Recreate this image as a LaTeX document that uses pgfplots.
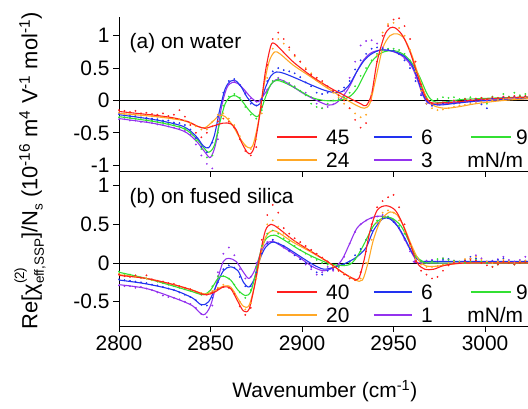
\documentclass[border=0pt]{standalone}
\usepackage{fontspec}
\setmainfont{Liberation Sans}
\usepackage{pgfplots}
\usepackage{pgfplotstable}
\pgfplotsset{compat=1.18}
\definecolor{cr}{HTML}{FF1E1E}
\definecolor{co}{HTML}{FFA826}
\definecolor{cb}{HTML}{2233F0}
\definecolor{cg}{HTML}{33E033}
\definecolor{cp}{HTML}{9433EE}
\newcommand{\bigf}{\fontsize{21}{25}\selectfont}
\newcommand{\lblf}{\fontsize{22}{26}\selectfont}
\newcommand{\smf}{\fontsize{13.5}{14}\selectfont}
\tikzset{lgt/.style={anchor=base west, yshift=-7.5bp, font=\bigf, inner sep=0pt}}

% dots, panel (a): x red orange blue green purple
\pgfplotstableread{
x r o b g p
2800 -0.15 -0.19 -0.21 -0.26 -0.29
2803 -0.16 -0.21 -0.23 -0.26 -0.29
2806 -0.18 -0.21 -0.24 -0.27 -0.31
2809 -0.16 -0.22 -0.24 -0.28 -0.31
2812 -0.20 -0.23 -0.26 -0.29 -0.33
2815 -0.19 -0.23 -0.27 -0.30 -0.33
2818 -0.21 -0.24 -0.28 -0.31 -0.35
2821 -0.22 -0.25 -0.29 -0.33 -0.37
2824 -0.20 -0.26 -0.31 -0.34 -0.38
2827 -0.24 -0.27 -0.31 -0.36 -0.40
2830 -0.22 -0.28 -0.34 -0.38 -0.42
2833 -0.15 -0.29 -0.35 -0.40 -0.44
2836 -0.25 -0.31 -0.38 -0.43 -0.47
2839 -0.38 -0.35 -0.45 -0.49 -0.53
2842 -0.50 -0.40 -0.58 -0.62 -0.68
2845 -0.57 -0.45 -0.72 -0.75 -0.85
2848 -0.50 -0.45 -0.80 -0.88 -0.98
2851 -0.40 -0.33 -0.65 -0.85 -1.05
2854 -0.32 -0.22 -0.25 -0.50 -0.60
2857 -0.28 -0.20 0.12 -0.08 0.00
2860 -0.33 -0.28 0.30 0.06 0.25
2863 -0.42 -0.38 0.33 0.10 0.30
2866 -0.60 -0.55 0.24 0.04 0.24
2869 -0.78 -0.70 0.10 -0.10 0.12
2872 -0.85 -0.75 -0.05 -0.22 0.03
2875 -0.72 -0.60 -0.08 -0.28 -0.02
2878 -0.10 -0.20 0.02 -0.15 0.03
2881 0.55 0.35 0.30 0.12 0.17
2884 0.95 0.80 0.45 0.30 0.30
2887 1.05 0.95 0.50 0.33 0.35
2890 0.95 0.88 0.47 0.30 0.30
2893 0.82 0.78 0.45 0.27 0.25
2896 0.70 0.68 0.42 0.22 0.20
2899 0.60 0.60 0.36 0.15 0.15
2902 0.48 0.50 0.28 0.08 0.12
2905 0.40 0.42 0.22 -0.05 0.05
2908 0.35 0.35 0.12 -0.10 -0.05
2911 0.30 0.28 0.10 -0.12 -0.12
2914 0.22 0.20 0.12 -0.05 -0.10
2917 0.15 0.12 0.14 0.00 -0.06
2920 0.08 0.05 0.15 0.02 0.02
2923 0.00 -0.05 0.20 0.05 0.15
2926 -0.12 -0.12 0.30 0.12 0.35
2929 -0.30 -0.20 0.48 0.22 0.60
2932 -0.42 -0.26 0.62 0.38 0.85
2935 -0.35 -0.22 0.72 0.50 0.92
2938 0.00 0.10 0.80 0.62 0.93
2941 0.60 0.70 0.82 0.72 0.88
2944 1.00 1.05 0.80 0.78 0.82
2947 1.15 1.18 0.78 0.80 0.78
2950 1.25 1.20 0.77 0.80 0.76
2953 1.27 1.12 0.72 0.78 0.72
2956 1.15 1.00 0.62 0.72 0.65
2959 0.95 0.78 0.50 0.62 0.55
2962 0.60 0.45 0.30 0.45 0.35
2965 0.25 0.15 0.08 0.20 0.10
2968 0.02 -0.05 -0.05 0.05 -0.05
2971 -0.05 -0.12 -0.08 0.00 -0.08
2974 -0.05 -0.15 -0.06 0.02 -0.06
2977 -0.03 -0.14 -0.04 0.05 -0.05
2980 -0.04 -0.12 -0.02 0.04 -0.03
2983 0.00 -0.10 -0.05 0.05 -0.02
2986 -0.02 -0.08 -0.03 0.02 -0.04
2989 0.02 -0.07 0.00 0.03 0.00
2992 0.01 -0.05 -0.02 0.05 0.01
2995 0.03 -0.04 0.02 0.02 -0.02
2998 0.04 -0.02 -0.06 0.04 0.02
3001 0.02 -0.02 -0.12 -0.05 0.00
3004 0.05 0.00 0.03 0.06 0.03
3007 0.04 0.01 0.02 0.03 0.02
3010 0.06 0.02 0.05 0.10 0.05
3013 0.05 0.03 0.03 0.06 0.03
3016 0.07 0.03 0.06 0.12 0.05
3019 0.06 0.04 0.04 0.08 0.06
3022 0.07 0.05 0.06 0.10 0.05
3025 0.06 0.05 0.05 0.07 0.06
3028 0.07 0.06 0.06 0.10 0.07
}\dotsA

% dots, panel (b): x red orange green blue purple
\pgfplotstableread{
x r o g b p
2800 -0.15 -0.14 -0.11 -0.21 -0.29
2803 -0.17 -0.16 -0.14 -0.22 -0.30
2806 -0.18 -0.17 -0.15 -0.23 -0.30
2809 -0.16 -0.18 -0.17 -0.24 -0.32
2812 -0.19 -0.19 -0.19 -0.25 -0.31
2815 -0.16 -0.20 -0.20 -0.26 -0.33
2818 -0.21 -0.22 -0.22 -0.28 -0.35
2821 -0.23 -0.23 -0.24 -0.29 -0.38
2824 -0.24 -0.24 -0.26 -0.31 -0.42
2827 -0.26 -0.26 -0.28 -0.33 -0.44
2830 -0.27 -0.28 -0.30 -0.35 -0.45
2833 -0.30 -0.30 -0.32 -0.38 -0.47
2836 -0.32 -0.32 -0.34 -0.41 -0.50
2839 -0.34 -0.34 -0.36 -0.44 -0.53
2842 -0.37 -0.37 -0.38 -0.48 -0.58
2845 -0.40 -0.39 -0.41 -0.54 -0.66
2848 -0.41 -0.40 -0.40 -0.55 -0.70
2851 -0.38 -0.36 -0.30 -0.45 -0.55
2854 -0.34 -0.32 -0.17 -0.25 -0.12
2857 -0.31 -0.28 -0.17 -0.08 0.12
2860 -0.32 -0.30 -0.20 -0.03 0.20
2863 -0.40 -0.38 -0.28 -0.06 0.10
2866 -0.56 -0.50 -0.38 -0.18 -0.08
2869 -0.67 -0.60 -0.45 -0.30 -0.20
2872 -0.58 -0.52 -0.35 -0.30 -0.18
2875 -0.15 -0.20 -0.05 -0.12 0.00
2878 0.30 0.20 0.22 0.12 0.18
2881 0.62 0.50 0.38 0.25 0.27
2884 0.75 0.55 0.42 0.30 0.30
2887 0.65 0.47 0.38 0.25 0.25
2890 0.45 0.38 0.32 0.22 0.20
2893 0.38 0.33 0.28 0.16 0.15
2896 0.32 0.28 0.22 0.10 0.10
2899 0.27 0.23 0.17 0.05 0.05
2902 0.22 0.19 0.12 0.00 -0.02
2905 0.17 0.15 0.08 -0.05 -0.08
2908 0.12 0.10 0.04 -0.12 -0.15
2911 0.07 0.06 0.00 -0.15 -0.12
2914 0.02 0.02 -0.02 -0.10 -0.05
2917 -0.06 -0.05 -0.05 -0.08 -0.10
2920 -0.10 -0.10 -0.05 -0.05 -0.02
2923 -0.15 -0.14 -0.03 -0.02 0.08
2926 -0.20 -0.18 0.00 0.02 0.25
2929 -0.22 -0.22 0.05 0.10 0.40
2932 -0.12 -0.20 0.15 0.18 0.50
2935 0.15 0.00 0.30 0.30 0.55
2938 0.50 0.30 0.45 0.42 0.58
2941 0.72 0.52 0.55 0.52 0.60
2944 0.80 0.65 0.60 0.58 0.62
2947 0.85 0.68 0.60 0.58 0.60
2950 0.88 0.65 0.56 0.53 0.55
2953 0.72 0.55 0.48 0.45 0.45
2956 0.50 0.40 0.38 0.32 0.30
2959 0.25 0.22 0.22 0.18 0.15
2962 0.02 0.05 0.08 0.06 0.05
2965 -0.10 -0.02 0.02 0.02 0.00
2968 -0.15 -0.05 0.00 0.00 0.03
2971 -0.20 -0.05 0.02 0.03 0.04
2974 -0.18 -0.04 0.05 0.02 0.02
2977 -0.10 -0.02 0.06 0.04 0.06
2980 -0.03 0.00 0.04 0.05 0.05
2983 0.00 0.02 0.03 0.02 0.03
2986 0.00 0.01 0.02 0.00 0.01
2989 0.02 0.05 0.00 0.03 0.04
2992 0.04 0.06 0.02 0.08 0.06
2995 0.03 0.08 0.04 0.06 0.10
2998 0.00 0.04 0.02 0.02 0.06
3001 -0.03 0.02 0.00 0.00 0.02
3004 -0.05 0.00 -0.05 0.02 0.03
3007 -0.02 0.02 -0.02 0.04 0.05
3010 0.02 0.04 0.02 0.06 0.08
3013 0.00 0.02 0.00 0.02 0.04
3016 -0.02 0.00 -0.02 0.00 0.02
3019 0.00 0.02 0.00 0.02 0.04
3022 0.01 0.03 0.01 0.03 0.08
3025 0.00 0.02 0.02 0.02 0.05
3028 0.01 0.02 0.01 0.03 0.04
}\dotsB

\pgfplotsset{
  panel/.style={
    scale only axis, width=421bp, height=154bp,
    xmin=2800, xmax=3030,
    axis x line*=bottom, axis y line*=left,
    axis line style={line width=0.8bp, black},
    tick align=outside, major tick length=6bp,
    tick style={line width=0.8bp, black},
    xtick={2800,2850,2900,2950,3000},
    tick label style={font=\bigf},
    label style={font=\bigf},
    /pgf/number format/assume math mode=true,
    clip=false,
  },
  dots/.style={only marks, mark=*, mark size=0.7bp, draw=none},
  fit/.style={smooth, tension=0.5, line width=1.1bp, no marks},
  lg/.style={line width=2bp, forget plot, no marks},
}

\begin{document}
\begin{tikzpicture}
% ---------------- panel (a) ----------------
\begin{axis}[panel, at={(119bp,238bp)}, anchor=south west,
  ymin=-1.09, ymax=1.29, ytick={-1,-0.5,0,0.5,1}, xticklabels={}]
\addplot[black, line width=0.8bp, forget plot] coordinates {(2800,0) (3030,0)};
\addplot[dots, cp, forget plot] table[x=x, y=p] {\dotsA};
\addplot[dots, cg, forget plot] table[x=x, y=g] {\dotsA};
\addplot[dots, cb, forget plot] table[x=x, y=b] {\dotsA};
\addplot[dots, co, forget plot] table[x=x, y=o] {\dotsA};
\addplot[dots, cr, forget plot] table[x=x, y=r] {\dotsA};
% fits
\addplot[fit, cp, forget plot] coordinates {(2800,-0.28) (2820,-0.36) (2835,-0.47) (2842,-0.62) (2847,-0.8) (2850,-0.88) (2853,-0.65) (2856,-0.1) (2859,0.2) (2862,0.28) (2865,0.26) (2868,0.18) (2872,0.05) (2876,-0.02) (2880,0.12) (2884,0.28) (2887,0.33) (2892,0.27) (2900,0.12) (2908,0.0) (2914,-0.07) (2918,-0.05) (2922,0.05) (2926,0.22) (2930,0.45) (2934,0.64) (2938,0.74) (2943,0.78) (2948,0.77) (2952,0.73) (2956,0.66) (2960,0.52) (2963,0.32) (2966,0.08) (2969,-0.04) (2975,-0.06) (2990,-0.02) (3030,0.04)};
\addplot[fit, cg, forget plot] coordinates {(2800,-0.25) (2820,-0.33) (2835,-0.43) (2842,-0.58) (2846,-0.72) (2849,-0.8) (2852,-0.7) (2855,-0.35) (2858,-0.05) (2861,0.06) (2864,0.07) (2867,0.0) (2871,-0.15) (2875,-0.25) (2877,-0.2) (2880,0.05) (2883,0.25) (2886,0.31) (2890,0.28) (2897,0.18) (2905,0.05) (2912,0.0) (2920,0.0) (2926,0.06) (2930,0.18) (2934,0.4) (2938,0.6) (2943,0.73) (2948,0.77) (2952,0.76) (2956,0.7) (2960,0.58) (2964,0.38) (2968,0.12) (2971,0.0) (2976,-0.03) (2990,0.02) (3030,0.06)};
\addplot[fit, cb, forget plot] coordinates {(2800,-0.22) (2820,-0.3) (2835,-0.4) (2842,-0.55) (2846,-0.7) (2849,-0.73) (2852,-0.55) (2855,-0.15) (2858,0.18) (2861,0.3) (2864,0.3) (2867,0.2) (2870,0.05) (2874,-0.07) (2877,-0.05) (2880,0.2) (2883,0.38) (2886,0.44) (2890,0.42) (2897,0.34) (2905,0.24) (2912,0.16) (2918,0.12) (2922,0.14) (2926,0.25) (2930,0.45) (2934,0.62) (2938,0.72) (2943,0.78) (2948,0.77) (2952,0.74) (2956,0.68) (2960,0.55) (2963,0.35) (2966,0.1) (2969,-0.03) (2975,-0.07) (2985,-0.04) (3000,0.0) (3030,0.04)};
\addplot[fit, co, forget plot] coordinates {(2800,-0.2) (2820,-0.25) (2835,-0.31) (2843,-0.4) (2847,-0.42) (2851,-0.33) (2855,-0.23) (2858,-0.25) (2862,-0.38) (2866,-0.58) (2870,-0.72) (2873,-0.7) (2876,-0.35) (2879,0.2) (2882,0.6) (2885,0.75) (2888,0.72) (2895,0.55) (2905,0.36) (2915,0.17) (2925,0.0) (2930,-0.08) (2934,-0.12) (2937,-0.05) (2940,0.3) (2944,0.8) (2948,1.0) (2952,1.03) (2956,0.95) (2960,0.7) (2964,0.35) (2968,0.05) (2972,-0.08) (2978,-0.12) (2985,-0.1) (2995,-0.05) (3010,0.0) (3030,0.04)};
\addplot[fit, cr, forget plot] coordinates {(2800,-0.17) (2810,-0.2) (2820,-0.23) (2830,-0.27) (2838,-0.33) (2843,-0.4) (2847,-0.43) (2852,-0.39) (2857,-0.35) (2861,-0.36) (2864,-0.45) (2867,-0.65) (2870,-0.8) (2872,-0.82) (2874,-0.7) (2877,-0.2) (2880,0.45) (2883,0.85) (2885,0.88) (2888,0.8) (2895,0.6) (2905,0.38) (2915,0.2) (2925,0.05) (2932,-0.05) (2935,-0.08) (2938,0.1) (2941,0.6) (2945,1.0) (2948,1.12) (2951,1.12) (2955,1.0) (2959,0.75) (2963,0.4) (2967,0.08) (2970,-0.03) (2975,-0.04) (2985,-0.02) (3000,0.02) (3030,0.06)};
% legend (a)
\addplot[lg, cr] coordinates {(2886.3,-0.5645) (2908.2,-0.5645)};
\addplot[lg, cb] coordinates {(2939.3,-0.5645) (2960.1,-0.5645)};
\addplot[lg, cg] coordinates {(2992.3,-0.5645) (3014.2,-0.5645)};
\addplot[lg, co] coordinates {(2886.3,-0.920) (2908.2,-0.920)};
\addplot[lg, cp] coordinates {(2939.3,-0.920) (2960.1,-0.920)};
\node[lgt] at (axis cs:2913.1,-0.5645) {45};
\node[lgt] at (axis cs:2965.0,-0.5645) {6};
\node[lgt] at (axis cs:3016.9,-0.5645) {9};
\node[lgt] at (axis cs:2913.1,-0.920) {24};
\node[lgt] at (axis cs:2965.0,-0.920) {3};
\node[lgt] at (axis cs:2990.2,-0.920) {mN/m};
\node[anchor=west, font=\bigf] at (rel axis cs:0.017,0.83) {(a) on water};
\end{axis}
% ---------------- panel (b) ----------------
\begin{axis}[panel, at={(119bp,83bp)}, anchor=south west,
  ymin=-0.814, ymax=1.176, ytick={-0.5,0,0.5,1},
  xticklabels={2800,2850,2900,2950,3000},
  xlabel={Wavenumber (cm\textsuperscript{-1})},
  x label style={at={(axis description cs:0.489,0)}, anchor=center, yshift=-65bp}]
\addplot[black, line width=0.8bp, forget plot] coordinates {(2800,0) (3030,0)};
\addplot[dots, cp, forget plot] table[x=x, y=p] {\dotsB};
\addplot[dots, cb, forget plot] table[x=x, y=b] {\dotsB};
\addplot[dots, cg, forget plot] table[x=x, y=g] {\dotsB};
\addplot[dots, co, forget plot] table[x=x, y=o] {\dotsB};
\addplot[dots, cr, forget plot] table[x=x, y=r] {\dotsB};
\addplot[fit, cp, forget plot] coordinates {(2800,-0.28) (2815,-0.33) (2830,-0.45) (2840,-0.55) (2846,-0.67) (2850,-0.55) (2854,-0.2) (2857,0.02) (2860,0.06) (2864,0.02) (2868,-0.12) (2871,-0.2) (2874,-0.1) (2877,0.1) (2880,0.24) (2884,0.28) (2890,0.2) (2898,0.08) (2906,-0.05) (2912,-0.1) (2918,-0.05) (2922,0.05) (2926,0.25) (2930,0.45) (2935,0.55) (2940,0.6) (2945,0.6) (2950,0.55) (2954,0.4) (2958,0.22) (2962,0.05) (2966,0.0) (3030,0.0)};
\addplot[fit, cb, forget plot] coordinates {(2800,-0.22) (2815,-0.27) (2830,-0.35) (2840,-0.45) (2845,-0.54) (2849,-0.5) (2853,-0.3) (2857,-0.1) (2861,-0.05) (2865,-0.1) (2868,-0.25) (2871,-0.31) (2874,-0.2) (2877,0.05) (2880,0.2) (2884,0.27) (2890,0.22) (2898,0.1) (2906,-0.02) (2912,-0.08) (2918,-0.05) (2924,0.0) (2930,0.08) (2935,0.2) (2939,0.42) (2944,0.57) (2948,0.57) (2953,0.45) (2957,0.28) (2961,0.1) (2965,0.02) (2970,0.02) (3030,0.02)};
\addplot[fit, cg, forget plot] coordinates {(2800,-0.12) (2815,-0.2) (2830,-0.3) (2840,-0.37) (2846,-0.41) (2850,-0.35) (2854,-0.2) (2857,-0.17) (2861,-0.22) (2865,-0.35) (2869,-0.42) (2872,-0.37) (2875,-0.1) (2878,0.2) (2881,0.33) (2885,0.36) (2890,0.3) (2898,0.18) (2906,0.08) (2914,0.0) (2920,-0.03) (2926,-0.02) (2930,0.08) (2934,0.25) (2939,0.48) (2944,0.58) (2949,0.58) (2954,0.48) (2958,0.3) (2962,0.1) (2966,0.02) (2972,0.0) (3030,0.0)};
\addplot[fit, co, forget plot] coordinates {(2800,-0.15) (2815,-0.2) (2830,-0.28) (2840,-0.35) (2847,-0.4) (2852,-0.36) (2857,-0.3) (2861,-0.31) (2865,-0.46) (2868,-0.56) (2871,-0.55) (2874,-0.3) (2877,0.05) (2880,0.33) (2884,0.42) (2888,0.38) (2895,0.27) (2905,0.14) (2915,0.0) (2922,-0.12) (2929,-0.22) (2933,-0.22) (2936,0.0) (2939,0.3) (2943,0.55) (2948,0.66) (2952,0.62) (2956,0.45) (2960,0.22) (2964,0.03) (2968,-0.04) (2974,-0.04) (2990,0.0) (3030,0.0)};
\addplot[fit, cr, forget plot] coordinates {(2800,-0.16) (2815,-0.2) (2830,-0.28) (2840,-0.35) (2847,-0.41) (2852,-0.38) (2857,-0.31) (2861,-0.33) (2865,-0.5) (2868,-0.62) (2871,-0.6) (2874,-0.3) (2877,0.1) (2880,0.42) (2883,0.5) (2887,0.45) (2895,0.3) (2905,0.15) (2915,0.0) (2922,-0.12) (2928,-0.2) (2931,-0.2) (2934,0.05) (2937,0.4) (2941,0.68) (2946,0.74) (2951,0.68) (2955,0.5) (2959,0.25) (2963,0.0) (2967,-0.08) (2972,-0.08) (2978,-0.03) (2990,0.0) (3030,0.0)};
% legend (b)
\addplot[lg, cr] coordinates {(2886.3,-0.3746) (2908.2,-0.3746)};
\addplot[lg, cb] coordinates {(2939.3,-0.3746) (2960.1,-0.3746)};
\addplot[lg, cg] coordinates {(2992.3,-0.3746) (3014.2,-0.3746)};
\addplot[lg, co] coordinates {(2886.3,-0.6719) (2908.2,-0.6719)};
\addplot[lg, cp] coordinates {(2939.3,-0.6719) (2960.1,-0.6719)};
\node[lgt] at (axis cs:2913.1,-0.3746) {40};
\node[lgt] at (axis cs:2965.0,-0.3746) {6};
\node[lgt] at (axis cs:3016.9,-0.3746) {9};
\node[lgt] at (axis cs:2913.1,-0.6719) {20};
\node[lgt] at (axis cs:2965.0,-0.6719) {1};
\node[lgt] at (axis cs:2990.2,-0.6719) {mN/m};
\node[anchor=west, font=\bigf] at (rel axis cs:0.017,0.83) {(b) on fused silica};
\end{axis}
% y label
\node[rotate=90, font=\lblf] at (30bp,238bp) {Re[χ\rlap{\raisebox{1.15ex}{\smf (2)}}\raisebox{-0.55ex}{\smf eff,SSP}]/N\raisebox{-0.45ex}{\smf s} (10\textsuperscript{-16} m\textsuperscript{4} V\textsuperscript{-1} mol\textsuperscript{-1})};
\pgfresetboundingbox
\useasboundingbox (0bp,0bp) rectangle (528bp,409bp);
\end{tikzpicture}
\end{document}
